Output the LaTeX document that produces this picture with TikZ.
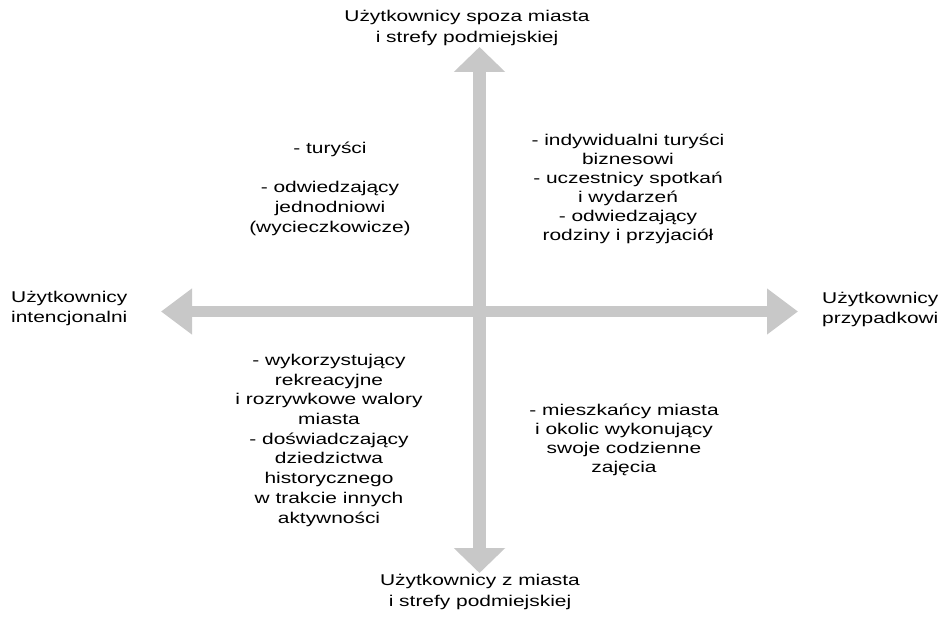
\documentclass[tikz,border=0pt]{standalone}
\usepackage{fontspec}
\setmainfont{Liberation Sans}[FakeStretch=1.34]
\usetikzlibrary{arrows.meta}
\definecolor{axisgray}{RGB}{200,200,200}
\tikzset{
  axisV/.style={draw=axisgray, line width=13pt,
    {Triangle[width=50pt,length=25pt]}-{Triangle[width=50pt,length=25pt]}},
  axisH/.style={draw=axisgray, line width=11pt,
    {Triangle[width=44pt,length=31pt]}-{Triangle[width=44pt,length=31pt]}},
  lbl/.style={inner sep=0pt, align=center, font=\fontsize{15.6}{21}\selectfont},
  lblL/.style={inner sep=0pt, align=left, font=\fontsize{15.6}{20}\selectfont},
  blk/.style={inner sep=0pt, align=center, font=\fontsize{15.6}{19.7}\selectfont},
  blkT/.style={inner sep=0pt, align=center, font=\fontsize{15.6}{19}\selectfont},
}
\begin{document}
\begin{tikzpicture}[x=1pt,y=-1pt]
\useasboundingbox (0,0) rectangle (950,618);
% axes
\coordinate (topTip) at (479.5,47);
\coordinate (botTip) at (479.5,573);
\coordinate (leftTip) at (161,311.5);
\coordinate (rightTip) at (798,311.5);
\draw[axisH] (leftTip) -- (rightTip);
\draw[axisV] (topTip) -- (botTip);
% axis labels (base anchor = baseline of last line)
\node[lbl, anchor=base] (top) at (467,43) {Użytkownicy spoza miasta\\i strefy podmiejskiej};
\node[lbl, anchor=base] (bottom) at (480,606) {Użytkownicy z miasta\\i strefy podmiejskiej};
\node[lblL, anchor=base west] (left) at (11,322) {Użytkownicy\\intencjonalni};
\node[lblL, anchor=base west] (right) at (822,323) {Użytkownicy\\przypadkowi};
% quadrant texts
\node[blk, anchor=base] (tl) at (330,232) {- turyści\\[19.7pt]- odwiedzający\\jednodniowi\\(wycieczkowicze)};
\node[blkT, anchor=base] (tr) at (628,240) {- indywidualni turyści\\biznesowi\\- uczestnicy spotkań\\i wydarzeń\\- odwiedzający\\rodziny i przyjaciół};
\node[blk, anchor=base] (bl) at (329,523) {- wykorzystujący\\rekreacyjne\\i rozrywkowe walory\\miasta\\- doświadczający\\dziedzictwa\\historycznego\\w trakcie innych\\aktywności};
\node[blkT, anchor=base] (br) at (624,472) {- mieszkańcy miasta\\i okolic wykonujący\\swoje codzienne\\zajęcia};
\end{tikzpicture}
\end{document}
